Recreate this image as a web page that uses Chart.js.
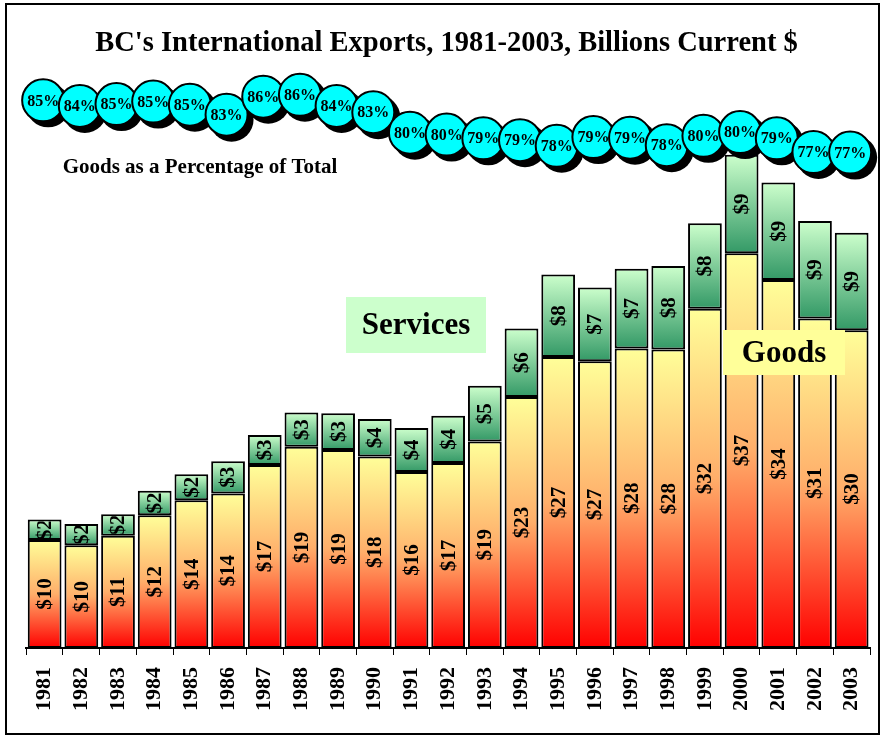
<!DOCTYPE html>
<html><head><meta charset="utf-8">
<script src="https://cdn.jsdelivr.net/npm/chart.js@4.4.1/dist/chart.umd.min.js"></script>
<style>html,body{margin:0;padding:0;background:#fff;overflow:hidden;}#wrap{width:882px;height:736px;position:relative;overflow:hidden;}</style>
</head><body><div id="wrap"><canvas id="c" width="893" height="736"></canvas></div>
<script>
const years = ['1981','1982','1983','1984','1985','1986','1987','1988','1989','1990','1991','1992','1993','1994','1995','1996','1997','1998','1999','2000','2001','2002','2003'];
const goods = [10.1, 9.6, 10.5, 12.4, 13.8, 14.45, 17.1, 18.8, 18.5, 17.9, 16.45, 17.3, 19.3, 23.45, 27.2, 26.8, 28.0, 27.9, 31.7, 36.9, 34.4, 30.8, 29.7];
const services = [1.9, 2.0, 2.0, 2.3, 2.45, 3.0, 2.8, 3.2, 3.45, 3.5, 4.1, 4.4, 5.2, 6.4, 7.7, 6.9, 7.45, 7.8, 8.0, 9.2, 9.1, 9.1, 9.1];
const goodsPct = [85.3, 84.4, 84.7, 85.1, 84.6, 83.0, 85.9, 86.2, 84.4, 83.4, 80.1, 79.8, 79.2, 78.9, 78.0, 79.4, 79.3, 78.1, 79.6, 80.2, 79.2, 77.0, 76.9];
const titleText = "BC's International Exports, 1981-2003, Billions Current $";

const SERIF = '"Liberation Serif", "Times New Roman", serif';

function segGradient(c, lowVal, highVal, stops, fallback) {
  const ch = c.chart, ys = ch.scales.y;
  if (!ys || !ch.chartArea) return fallback;
  const top = ys.getPixelForValue(highVal), bot = ys.getPixelForValue(lowVal);
  if (!isFinite(top) || !isFinite(bot) || top === bot) return fallback;
  const g = ch.ctx.createLinearGradient(0, top, 0, bot);
  stops.forEach(s => g.addColorStop(s[0], s[1]));
  return g;
}
const goodsStops = [[0, '#FFFF99'], [0.5, '#FFAE6A'], [1, '#FF0000']];
const servStops = [[0, '#CCFFCC'], [1, '#339966']];

const bubbles = {
  id: 'bubbles',
  beforeDatasetDraw(chart, args) {
    if (args.index !== 0) return;
    const ctx = chart.ctx;
    ctx.save();
    args.meta.data.forEach((pt, i) => {
      const x = pt.x - 1.5, y = pt.y, r = 21;
      ctx.beginPath(); ctx.arc(x + 5, y + 5, r + 1, 0, Math.PI * 2);
      ctx.fillStyle = '#000'; ctx.fill();
      ctx.beginPath(); ctx.arc(x, y, r, 0, Math.PI * 2);
      ctx.fillStyle = '#00FFFF'; ctx.fill();
      ctx.lineWidth = 2; ctx.strokeStyle = '#000'; ctx.stroke();
      ctx.fillStyle = '#000';
      ctx.font = 'bold 16px ' + SERIF;
      ctx.textAlign = 'center'; ctx.textBaseline = 'middle';
      ctx.fillText(Math.round(goodsPct[i]) + '%', x, y + 1);
    });
    ctx.restore();
    return false;
  }
};

const barLabels = {
  id: 'barLabels',
  afterDatasetDraw(chart, args) {
    if (args.index !== 1 && args.index !== 2) return;
    const ctx = chart.ctx;
    const vals = args.index === 1 ? goods : services;
    args.meta.data.forEach((el, i) => {
      const p = el.getProps(['x', 'y', 'base', 'width'], true);
      const top = Math.min(p.y, p.base), bot = Math.max(p.y, p.base);
      ctx.save();
      ctx.beginPath();
      ctx.rect(p.x - p.width / 2 + 2, top + 2, p.width - 4, bot - top - 4);
      ctx.clip();
      ctx.translate(p.x, (top + bot) / 2);
      ctx.rotate(-Math.PI / 2);
      ctx.fillStyle = '#000';
      ctx.font = 'bold 21px ' + SERIF;
      ctx.textAlign = 'center'; ctx.textBaseline = 'middle';
      ctx.fillText('$' + Math.round(vals[i]), 0, 1);
      ctx.restore();
    });
  }
};

const annotations = {
  id: 'annotations',
  afterDraw(chart) {
    const ctx = chart.ctx;
    ctx.save();
    ctx.fillStyle = '#000';
    ctx.textAlign = 'center'; ctx.textBaseline = 'middle';
    ctx.font = 'bold 21px ' + SERIF;
    ctx.fillText('Goods as a Percentage of Total', 200, 168);
    ctx.fillStyle = '#CCFFCC';
    ctx.fillRect(346, 297, 140, 56);
    ctx.fillStyle = '#000';
    ctx.font = 'bold 31px ' + SERIF;
    ctx.fillText('Services', 416, 326);
    ctx.fillStyle = '#FFFF99';
    ctx.fillRect(723, 330, 122, 45);
    ctx.fillStyle = '#000';
    ctx.fillText('Goods', 784, 354);
    ctx.lineWidth = 2;
    ctx.strokeStyle = '#000';
    ctx.strokeRect(6, 4, 873, 730);
    ctx.restore();
  }
};

new Chart(document.getElementById('c'), {
  type: 'bar',
  data: {
    labels: years,
    datasets: [
      { type: 'line', label: 'Goods as a Percentage of Total', data: goodsPct, yAxisID: 'y2',
        showLine: false, pointRadius: 21, pointBackgroundColor: '#00FFFF', pointBorderColor: '#000',
        pointBorderWidth: 2, clip: false, order: 0 },
      { label: 'Goods', data: goods, yAxisID: 'y', order: 1, borderColor: '#000', borderWidth: 2, borderSkipped: false,
        backgroundColor: c => c.type === 'data' ? segGradient(c, 0, goods[c.dataIndex], goodsStops, '#FFCC66') : '#FFCC66' },
      { label: 'Services', data: services, yAxisID: 'y', order: 1, borderColor: '#000', borderWidth: 2, borderSkipped: false,
        backgroundColor: c => c.type === 'data' ? segGradient(c, goods[c.dataIndex], goods[c.dataIndex] + services[c.dataIndex], servStops, '#99DDAA') : '#99DDAA' }
    ]
  },
  options: {
    responsive: false,
    animation: false,
    datasets: { bar: { barPercentage: 0.92, categoryPercentage: 1.0 } },
    layout: { padding: { left: 0, right: 0, top: 0, bottom: 0 } },
    plugins: {
      legend: { display: false },
      tooltip: { enabled: false },
      title: { display: true, text: titleText, color: '#000',
        font: { family: SERIF, size: 28.5, weight: 'bold', lineHeight: 1.2 },
        padding: { top: 27, bottom: 8.8 } }
    },
    scales: {
      x: {
        stacked: true,
        grid: { offset: true, drawOnChartArea: false, drawTicks: true, tickLength: 7, color: '#000', lineWidth: 1 },
        border: { display: true, color: '#000', width: 2 },
        ticks: { minRotation: 90, maxRotation: 90, autoSkip: false, color: '#000', padding: 12,
          font: { family: SERIF, size: 22, weight: 'bold' } },
        afterFit(s) { s.height = 88; }
      },
      y: { stacked: true, display: true, position: 'left', min: 0, max: 54.02,
        ticks: { display: false }, grid: { display: false, drawTicks: false }, border: { display: false },
        afterFit(s) { s.width = 26.3; } },
      y2: { display: false, min: -2.72, max: 90.18 }
    }
  },
  plugins: [bubbles, barLabels, annotations]
});
</script>
</body></html>
